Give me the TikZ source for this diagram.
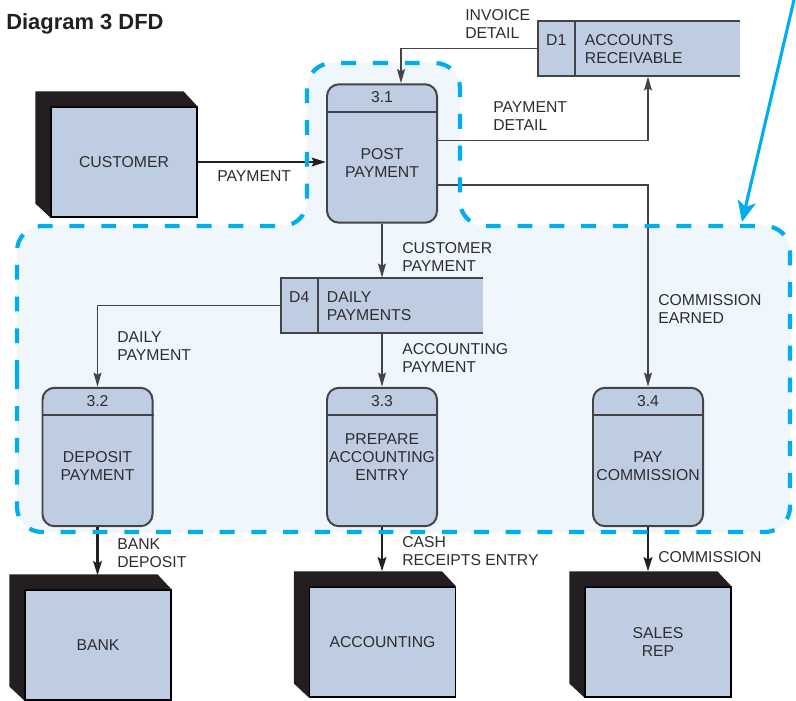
\documentclass[tikz,border=0pt]{standalone}
\usepackage{fontspec}
\setmainfont{Liberation Sans}
\usetikzlibrary{arrows.meta,calc}

\definecolor{boxfill}{RGB}{191,205,227}
\definecolor{boxline}{RGB}{68,68,72}
\definecolor{darkface}{RGB}{35,31,32}
\definecolor{zonefill}{RGB}{240,247,252}
\definecolor{zoneline}{RGB}{0,174,239}
\definecolor{txtc}{RGB}{45,45,48}

\tikzset{
  lbl/.style={font=\fontsize{11.2}{12.8}\selectfont, text=txtc, inner sep=0pt, align=left, anchor=west},
  ctr/.style={font=\fontsize{11.2}{12.8}\selectfont, text=txtc, inner sep=0pt, align=center},
  proc/.style={draw=boxline, fill=boxfill, line width=1.4pt, rounded corners=0.3cm,
    minimum width=2.75cm, minimum height=3.46cm, inner sep=0pt},
  ent/.style={draw=black, fill=boxfill, line width=0.8pt, minimum width=3.65cm,
    minimum height=2.75cm, inner sep=0pt, align=center, text=txtc,
    font=\fontsize{11.2}{12.8}\selectfont},
  store/.style={fill=boxfill, minimum width=5.05cm, minimum height=1.375cm, inner sep=0pt},
  flow/.style={draw=boxline, line width=1.4pt, -{Stealth[length=10pt,width=5.5pt,inset=1.5pt]}},
  extflow/.style={draw=darkface, line width=2pt, -{Stealth[length=10pt,width=6pt,inset=1.5pt]}},
}

\begin{document}
\begin{tikzpicture}[x=0.025cm, y=-0.025cm]
  \useasboundingbox (0,0) rectangle (796,700);

  % 标题
  \node[anchor=base west, inner sep=0pt, text=darkface,
    font=\bfseries\fontsize{15.6}{18}\selectfont] (title) at (6,29) {Diagram 3 DFD};

  % 虚线区域（底色）
  \fill[zonefill, rounded corners=0.625cm]
    (17,400) -- (17,226) -- (307,226) -- (307,63) -- (460,63) -- (460,226)
    -- (790,226) -- (790,532) -- (17,532) -- cycle;

  % 处理
  \node[proc] (p1) at (382,153.5) {};
  \node[proc] (p2) at (97.5,457) {};
  \node[proc] (p3) at (382,457) {};
  \node[proc] (p4) at (648,457) {};
  \foreach \p in {p1,p2,p3,p4} {
    \draw[boxline, line width=1.4pt] ($(\p.north west)+(0,28.5)$) -- ($(\p.north east)+(0,28.5)$);
  }
  \node[ctr] (p1id) at ($(p1.north)+(0,14)$) {3.1};
  \node[ctr] (p2id) at ($(p2.north)+(0,14)$) {3.2};
  \node[ctr] (p3id) at ($(p3.north)+(0,14)$) {3.3};
  \node[ctr] (p4id) at ($(p4.north)+(0,14)$) {3.4};
  \node[ctr] (p1txt) at ($(p1.center)+(0,9.5)$) {POST\\PAYMENT};
  \node[ctr] (p2txt) at ($(p2.center)+(0,9)$) {DEPOSIT\\PAYMENT};
  \node[ctr] (p3txt) at ($(p3.center)+(0,0)$) {PREPARE\\ACCOUNTING\\ENTRY};
  \node[ctr] (p4txt) at ($(p4.center)+(0,9)$) {PAY\\COMMISSION};

  % 数据存储
  \node[store] (d1) at (639,48.5) {};
  \node[store] (d4) at (382,305.5) {};
  \foreach \d in {d1,d4} {
    \draw[boxline, line width=1.4pt] (\d.north east) -- (\d.north west) -- (\d.south west) -- (\d.south east);
    \draw[boxline, line width=1.4pt] ($(\d.north west)+(37,0)$) -- ($(\d.south west)+(37,0)$);
  }
  \node[ctr] (d1id) at ($(d1.west)+(18.5,-8.5)$) {D1};
  \node[ctr] (d4id) at ($(d4.west)+(18.5,-8.5)$) {D4};
  \node[lbl] (d1txt) at ($(d1.west)+(47,0.5)$) {ACCOUNTS\\RECEIVABLE};
  \node[lbl] (d4txt) at ($(d4.west)+(46,0.5)$) {DAILY\\PAYMENTS};

  % 外部实体
  \node[ent] (cust) at (124,162) {CUSTOMER};
  \node[ent] (bank) at (98,645) {BANK};
  \node[ent] (acc) at (382.5,642) {ACCOUNTING};
  \node[ent] (rep) at (658,642) {SALES\\REP};
  \foreach \e in {cust,bank,acc,rep} {
    \fill[darkface] ($(\e.north west)+(-15,-15)$) -- ($(\e.north east)+(-14,-15)$) -- (\e.north east)
      -- (\e.north west) -- (\e.south west) -- ($(\e.south west)+(-15,-14)$) -- cycle;
  }

  % 数据流
  \draw[extflow] (cust.east) -- (cust.east -| p1.west);
  \draw[flow] (d1.west) -| ($(p1.north)+(19,0)$);
  \draw[flow] ($(p1.east)+(0,-13)$) -| (d1.south -| p4.north);
  \draw[flow] ($(p1.east)+(0,31.5)$) -| (p4.north);
  \draw[flow] (p1.south) -- (d4.north);
  \draw[flow] (d4.west) -| (p2.north);
  \draw[flow] (d4.south) -- (p3.north);
  \draw[extflow] (p2.south) -- ($(p2.south |- bank.north)+(0,-14)$);
  \draw[extflow] (p3.south) -- ($(p3.south |- acc.north)+(0,-15)$);
  \draw[extflow] (p4.south) -- ($(p4.south |- rep.north)+(0,-15)$);

  % 标注
  \node[lbl] (l1) at (465,24) {INVOICE\\DETAIL};
  \node[lbl] (l2) at (493,116) {PAYMENT\\DETAIL};
  \node[lbl] (l3) at (217,176) {PAYMENT};
  \node[lbl] (l4) at (402,257) {CUSTOMER\\PAYMENT};
  \node[lbl] (l5) at (117,346) {DAILY\\PAYMENT};
  \node[lbl] (l6) at (402,358) {ACCOUNTING\\PAYMENT};
  \node[lbl] (l7) at (658,309) {COMMISSION\\EARNED};
  \node[lbl] (l8) at (117,553) {BANK\\DEPOSIT};
  \node[lbl] (l9) at (402,551) {CASH\\RECEIPTS ENTRY};
  \node[lbl] (l10) at (658,557) {COMMISSION};

  % 虚线边框
  \draw[zoneline, line width=3pt, dash pattern=on 10.6pt off 12pt, rounded corners=0.625cm]
    (17,400) -- (17,226) -- (307,226) -- (307,63) -- (460,63) -- (460,226)
    -- (790,226) -- (790,532) -- (17,532) -- cycle;

  % 指示箭头
  \coordinate (pin) at (796.3,-10);
  \coordinate (tip) at (742,222);
  \draw[zoneline, line width=2.2pt, -{Stealth[length=15pt,width=13pt,inset=4pt]}] (pin) -- (tip);
\end{tikzpicture}
\end{document}
